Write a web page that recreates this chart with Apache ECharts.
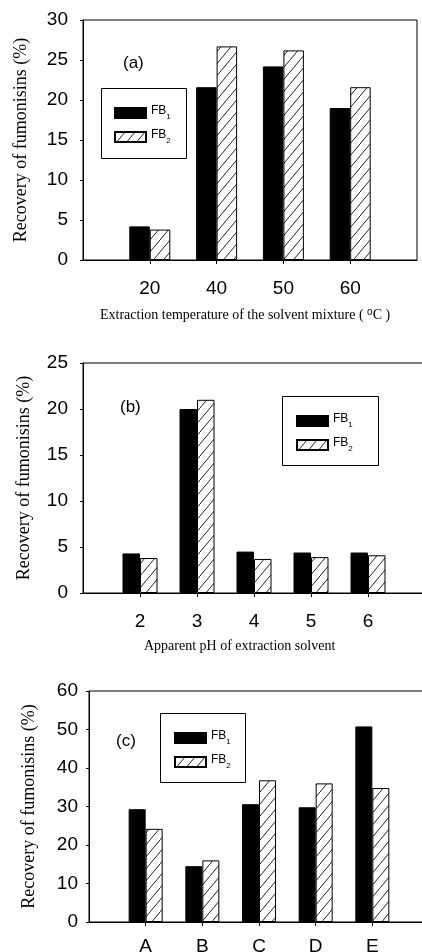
<!DOCTYPE html>
<html><head><meta charset="utf-8">
<script src="https://cdn.jsdelivr.net/npm/echarts@6/dist/echarts.min.js"></script>
<style>html,body{margin:0;padding:0;background:#fff}#c{width:422px;height:952px}</style>
</head><body><div id="c"></div>
<script>
// ---- data ----
var tempLabels = ['20', '40', '50', '60'];
var tempFB1 = [4.2, 21.6, 24.2, 19.0];
var tempFB2 = [3.8, 26.7, 26.2, 21.6];

var phLabels = ['2', '3', '4', '5', '6'];
var phFB1 = [4.3, 20.0, 4.5, 4.4, 4.4];
var phFB2 = [3.8, 21.0, 3.7, 3.9, 4.1];

var solvLabels = ['A', 'B', 'C', 'D', 'E'];
var solvFB1 = [29.3, 14.5, 30.6, 29.8, 50.8];
var solvFB2 = [24.2, 16.0, 36.8, 36.0, 34.8];

var seriesNames = ['FB1', 'FB2'];

// ---- helpers ----
function pad(arr, blank) { return [blank].concat(arr).concat([blank]); }

var hatch = document.createElement('canvas');
hatch.width = 10; hatch.height = 12;
(function () {
  var g = hatch.getContext('2d');
  g.fillStyle = '#fff'; g.fillRect(0, 0, 10, 12);
  g.strokeStyle = '#222'; g.lineWidth = 1;
  g.beginPath(); g.moveTo(-1, 13.2); g.lineTo(11, -1.2); g.stroke();
})();
var hatchFill = { image: hatch, repeat: 'repeat' };

var sans = 'Liberation Sans, Arial, sans-serif';
var serif = 'Liberation Serif, Times New Roman, serif';

var grids = [
  { left: 83, top: 20, width: 334, height: 240 },
  { left: 83, top: 363, width: 342, height: 230 },
  { left: 89, top: 691, width: 340, height: 231 }
];
var cats = [tempLabels, phLabels, solvLabels];
var fb1 = [tempFB1, phFB1, solvFB1];
var fb2 = [tempFB2, phFB2, solvFB2];
var yMax = [30, 25, 60];
var yInt = [5, 5, 10];
var barW = [20.5, 17.5, 17];
var xMargin = [19, 19, 15];
var yMargin = [15, 15, 11];
var yNameGap = [53, 50, 51];

var option = {
  animation: false,
  backgroundColor: '#fff',
  grid: grids.map(function (g) {
    return Object.assign({ show: true, borderColor: '#000', borderWidth: 1, backgroundColor: 'transparent',
      containLabel: false, outerBoundsMode: 'none' }, g);
  }),
  xAxis: cats.map(function (c, i) {
    var n = c.length + 2;
    return {
      type: 'category', gridIndex: i, data: pad(c, ''), boundaryGap: false,
      axisLine: { lineStyle: { color: '#000', width: 1 } },
      axisTick: { show: true, length: 4, inside: false, lineStyle: { color: '#000' },
        interval: function (idx) { return idx > 0 && idx < n - 1; } },
      axisLabel: { color: '#000', fontFamily: sans, fontSize: 19, margin: xMargin[i], interval: 0 },
      splitLine: { show: false }
    };
  }),
  yAxis: cats.map(function (c, i) {
    return {
      type: 'value', gridIndex: i, min: 0, max: yMax[i], interval: yInt[i],
      name: 'Recovery of fumonisins (%)', nameLocation: 'middle', nameGap: yNameGap[i], nameRotate: 90,
      nameTextStyle: { fontFamily: serif, fontSize: 18, color: '#000' },
      axisLine: { show: true, lineStyle: { color: '#000', width: 1 } },
      axisTick: { show: true, length: 3, lineStyle: { color: '#000' } },
      axisLabel: { color: '#000', fontFamily: sans, fontSize: 19, margin: yMargin[i] },
      splitLine: { show: false }
    };
  }),
  legend: [
    { left: 114, top: 105 },
    { left: 296, top: 413 },
    { left: 174, top: 730 }
  ].map(function (p) {
    return {
      left: p.left, top: p.top, orient: 'vertical', data: seriesNames.slice(),
      icon: 'rect', itemWidth: 31, itemHeight: 10, itemGap: 8, itemTextGap: 7, padding: 0,
      selectedMode: false,
      formatter: function (name) { return '{m|FB}{s|' + name.slice(2) + '}'; },
      textStyle: {
        rich: {
          m: { fontFamily: sans, fontSize: 12, color: '#000', padding: [0, 0, 4, 0] },
          s: { fontFamily: sans, fontSize: 8, color: '#000', verticalAlign: 'bottom' }
        }
      }
    };
  }),
  graphic: [
    { type: 'rect', shape: { x: 101.5, y: 88.5, width: 85, height: 70 }, style: { fill: 'none', stroke: '#000', lineWidth: 1 }, z: 0 },
    { type: 'rect', shape: { x: 282.5, y: 396.5, width: 96, height: 69 }, style: { fill: 'none', stroke: '#000', lineWidth: 1 }, z: 0 },
    { type: 'rect', shape: { x: 160.5, y: 713.5, width: 85, height: 69 }, style: { fill: 'none', stroke: '#000', lineWidth: 1 }, z: 0 },
    { type: 'text', x: 123, y: 63, style: { text: '(a)', font: '17px ' + sans, fill: '#000', textVerticalAlign: 'middle' } },
    { type: 'text', x: 120, y: 407, style: { text: '(b)', font: '17px ' + sans, fill: '#000', textVerticalAlign: 'middle' } },
    { type: 'text', x: 116, y: 741, style: { text: '(c)', font: '17px ' + sans, fill: '#000', textVerticalAlign: 'middle' } },
    { type: 'text', x: 100, y: 315, style: {
        text: '{t|Extraction temperature of the solvent mixture ( }{u|o}{t|C )}',
        textVerticalAlign: 'middle',
        rich: { t: { fontFamily: serif, fontSize: 14, fill: '#000', color: '#000' },
                u: { fontFamily: sans, fontSize: 10, color: '#000', verticalAlign: 'top', padding: [0, 0, 6, 0] } } } },
    { type: 'text', x: 144, y: 646, style: { text: 'Apparent pH of extraction solvent', font: '14px ' + serif, fill: '#000', textVerticalAlign: 'middle' } }
  ],
  series: []
};

cats.forEach(function (c, i) {
  option.series.push({
    name: 'FB1', type: 'bar', xAxisIndex: i, yAxisIndex: i, data: pad(fb1[i], null),
    barWidth: barW[i], barGap: '0%',
    itemStyle: { color: '#000', borderColor: '#000', borderWidth: 1 }
  });
  option.series.push({
    name: 'FB2', type: 'bar', xAxisIndex: i, yAxisIndex: i, data: pad(fb2[i], null),
    barWidth: barW[i], barGap: '0%',
    itemStyle: { color: hatchFill, borderColor: '#000', borderWidth: 1 }
  });
});

var chart = echarts.init(document.getElementById('c'), null, { renderer: 'canvas' });
chart.setOption(option);
</script></body></html>
